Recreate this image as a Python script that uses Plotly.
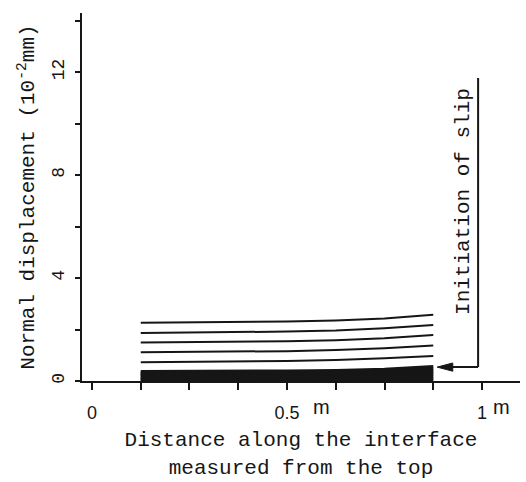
import plotly.graph_objects as go

# Node positions along the interface (m)
x_nodes = [0.125, 0.25, 0.375, 0.5, 0.625, 0.75, 0.875]

# Normal displacement curves (10^-2 mm), upper separated curves
upper_curves = [
    [2.26, 2.27, 2.29, 2.31, 2.35, 2.43, 2.57],
    [1.87, 1.88, 1.90, 1.92, 1.96, 2.05, 2.18],
    [1.50, 1.51, 1.52, 1.54, 1.58, 1.66, 1.79],
    [1.12, 1.13, 1.14, 1.16, 1.20, 1.27, 1.38],
    [0.73, 0.74, 0.76, 0.78, 0.82, 0.88, 0.97],
]

# Dense band of early-stage curves near zero
band_curves = [
    [0.36, 0.36, 0.37, 0.38, 0.40, 0.45, 0.55],
    [0.31, 0.31, 0.32, 0.33, 0.35, 0.39, 0.48],
    [0.26, 0.26, 0.27, 0.28, 0.29, 0.33, 0.40],
    [0.21, 0.21, 0.22, 0.22, 0.24, 0.27, 0.33],
    [0.16, 0.16, 0.17, 0.17, 0.18, 0.20, 0.25],
    [0.11, 0.11, 0.12, 0.12, 0.13, 0.14, 0.18],
    [0.06, 0.06, 0.07, 0.07, 0.07, 0.08, 0.10],
    [0.02, 0.02, 0.02, 0.02, 0.03, 0.03, 0.04],
]

x_tickvals = [0, 0.5, 1.0]
x_ticktext = ["0", "0.5", "1"]
y_tickvals = [0, 4, 8, 12]
y_ticktext = ["0", "4", "8", "12"]

MONO = "Liberation Mono"
INK = "#161616"

fig = go.Figure()
for yv in upper_curves:
    fig.add_trace(go.Scatter(x=x_nodes, y=yv, mode="lines",
                             line=dict(color=INK, width=2), showlegend=False,
                             hoverinfo="skip"))
for yv in band_curves:
    fig.add_trace(go.Scatter(x=x_nodes, y=yv, mode="lines",
                             line=dict(color=INK, width=3.5), showlegend=False,
                             hoverinfo="skip"))

# Initiation of slip bracket: vertical + horizontal line with arrowhead
fig.add_shape(type="line", x0=0.99, x1=0.99, y0=0.54, y1=11.77,
              line=dict(color=INK, width=2))
fig.add_shape(type="line", x0=0.91, x1=0.99, y0=0.54, y1=0.54,
              line=dict(color=INK, width=2))
fig.add_shape(type="path", path="M 0.885 0.54 L 0.925 0.70 L 0.925 0.38 Z",
              fillcolor=INK, line=dict(color=INK, width=1))
fig.add_annotation(x=0.952, y=6.97, xref="x", yref="y", text="Initiation of slip",
                   textangle=-90, showarrow=False,
                   font=dict(family=MONO, size=21, color=INK))

# unit labels next to tick labels
for xv, sh in [(0.5, 24), (1.0, 9)]:
    fig.add_annotation(x=xv, y=0, xref="x", yref="y", text="m", showarrow=False,
                       xanchor="left", yanchor="top", xshift=sh,
                       yshift=-13, font=dict(family="Liberation Sans", size=20, color=INK))

fig.update_layout(
    width=526, height=482,
    margin=dict(l=82, r=6, t=13, b=101),
    paper_bgcolor="white", plot_bgcolor="white",
    showlegend=False,
    xaxis=dict(range=[-0.0256, 1.0974], showgrid=False, zeroline=False,
               showline=True, linecolor=INK, linewidth=2,
               ticks="outside", ticklen=7, tickwidth=2, tickcolor=INK,
               tickmode="array", tickvals=x_tickvals, ticktext=x_ticktext,
               minor=dict(dtick=0.125, tick0=0, ticks="outside", ticklen=7,
                          tickwidth=2, tickcolor=INK, showgrid=False),
               ticklabelstandoff=7,
               tickfont=dict(family="Liberation Sans", size=18, color=INK),
               title=dict(text="Distance along the interface<br>measured from the top",
                          font=dict(family=MONO, size=21, color=INK), standoff=10)),
    yaxis=dict(range=[0, 14.3], showgrid=False, zeroline=False,
               showline=True, linecolor=INK, linewidth=2,
               ticks="outside", ticklen=5, tickwidth=2, tickcolor=INK,
               tickmode="array", tickvals=y_tickvals, ticktext=y_ticktext, tickangle=-90,
               minor=dict(dtick=2, tick0=0, ticks="outside", ticklen=5,
                          tickwidth=2, tickcolor=INK, showgrid=False),
               ticklabelstandoff=4,
               tickfont=dict(family=MONO, size=18, color=INK),
               title=dict(text="Normal displacement (10<sup>-2</sup>mm)",
                          font=dict(family=MONO, size=21, color=INK), standoff=8)),
)

fig.write_html("out.html")
